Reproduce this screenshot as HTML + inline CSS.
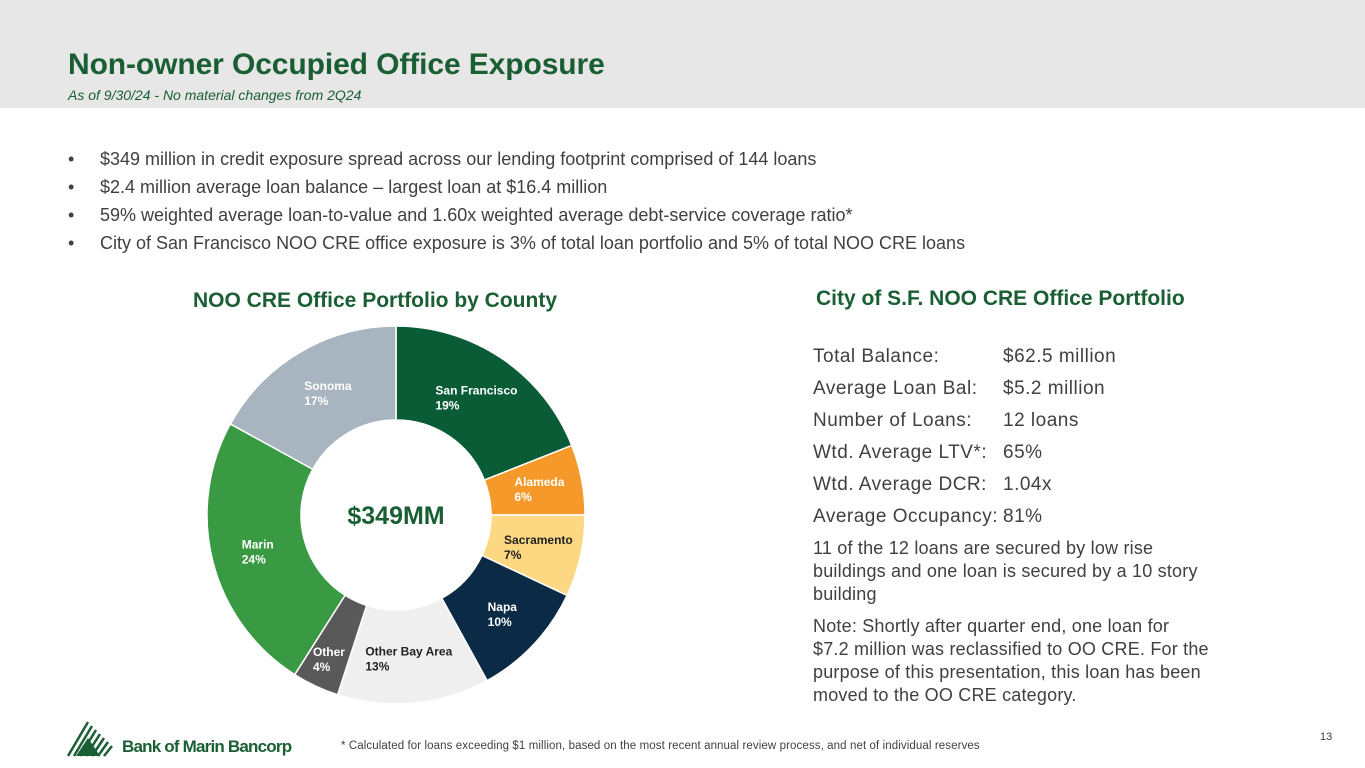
<!DOCTYPE html>
<html><head><meta charset="utf-8"><style>
body{margin:0;width:1365px;height:768px;position:relative;background:#fff;font-family:"Liberation Sans",sans-serif;overflow:hidden;color:#404040}
.hdr{position:absolute;left:0;top:0;width:1365px;height:108px;background:#e7e7e7}
.t{position:absolute;left:68px;top:48px;font-size:30px;font-weight:bold;color:#1a5e34;letter-spacing:-0.1px}
.st{position:absolute;left:68px;top:87px;font-size:14px;font-style:italic;color:#1a5e34}
.bul{position:absolute;left:68px;font-size:18px}
.bul span{position:absolute;left:0}
.bul div{position:absolute;left:32px;white-space:nowrap}
.h2{position:absolute;font-size:21px;font-weight:bold;color:#1a5e34}
.r{position:absolute;left:813px;font-size:19px;white-space:nowrap;letter-spacing:0.5px}
.v{position:absolute;left:1003px;font-size:19px;white-space:nowrap;letter-spacing:0.5px}
.p{position:absolute;left:813px;font-size:18px;line-height:23px;white-space:nowrap;letter-spacing:0.2px}
</style></head><body>
<div class="hdr"></div>
<div class="t">Non-owner Occupied Office Exposure</div>
<div class="st">As of 9/30/24 - No material changes from 2Q24</div>
<div class="bul" style="top:149px"><span>•</span><div>$349 million in credit exposure spread across our lending footprint comprised of 144 loans</div></div>
<div class="bul" style="top:177px"><span>•</span><div>$2.4 million average loan balance – largest loan at $16.4 million</div></div>
<div class="bul" style="top:205px"><span>•</span><div>59% weighted average loan-to-value and 1.60x weighted average debt-service coverage ratio*</div></div>
<div class="bul" style="top:233px"><span>•</span><div>City of San Francisco NOO CRE office exposure is 3% of total loan portfolio and 5% of total NOO CRE loans</div></div>
<div class="h2" style="left:193px;top:289px">NOO CRE Office Portfolio by County</div>
<div class="h2" style="left:816px;top:287px">City of S.F. NOO CRE Office Portfolio</div>
<div class="r" style="top:346px">Total Balance:</div><div class="v" style="top:346px">$62.5 million</div>
<div class="r" style="top:378px">Average Loan Bal:</div><div class="v" style="top:378px">$5.2 million</div>
<div class="r" style="top:410px">Number of Loans:</div><div class="v" style="top:410px">12 loans</div>
<div class="r" style="top:442px">Wtd. Average LTV*:</div><div class="v" style="top:442px">65%</div>
<div class="r" style="top:474px">Wtd. Average DCR:</div><div class="v" style="top:474px">1.04x</div>
<div class="r" style="top:506px">Average Occupancy:</div><div class="v" style="top:506px">81%</div>
<div class="p" style="top:537px">11 of the 12 loans are secured by low rise<br>buildings and one loan is secured by a 10 story<br>building</div>
<div class="p" style="top:615px">Note: Shortly after quarter end, one loan for<br>$7.2 million was reclassified to OO CRE. For the<br>purpose of this presentation, this loan has been<br>moved to the OO CRE category.</div>
<div style="position:absolute;left:341px;top:740px;font-size:11.5px;letter-spacing:0.1px">* Calculated for loans exceeding $1 million, based on the most recent annual review process, and net of individual reserves</div>
<div style="position:absolute;left:1320px;top:731px;font-size:11px">13</div>
<svg style="position:absolute;left:66px;top:718px" width="240" height="40">
<g stroke="#1a5e34" stroke-width="2.5"><line x1="2" y1="38" x2="22" y2="4"/><line x1="8" y1="38" x2="26" y2="8"/><line x1="14" y1="38" x2="30" y2="12"/><line x1="20" y1="38" x2="34" y2="16"/><line x1="26" y1="38" x2="38" y2="20"/><line x1="32" y1="38" x2="42" y2="24"/><line x1="38" y1="38" x2="46" y2="28"/></g>
<polygon points="10,38 22,20 34,38" fill="#1a5e34"/>
<text x="56" y="34" font-size="17" font-weight="bold" fill="#1a5e34" font-family="Liberation Sans, sans-serif" letter-spacing="-0.8">Bank of Marin Bancorp</text>
</svg>
<svg id="donut" style="position:absolute;left:0;top:0" width="1365" height="768"></svg>
<script>
const categories=["San Francisco","Alameda","Sacramento","Napa","Other Bay Area","Other","Marin","Sonoma"];
const values=[19,6,7,10,13,4,24,17];
const colors=["#0a5c36","#f59a2a","#fdd882","#0b2a45","#efefef","#595959","#3a9a44","#a8b4c0"];
const textColors=["#fff","#fff","#222","#fff","#222","#fff","#fff","#fff"];
const cx=396,cy=515,R=189,r=95;
const svg=document.getElementById('donut');
const NS="http://www.w3.org/2000/svg";
const total=values.reduce((a,b)=>a+b,0);
function pt(a,rad){return [cx+rad*Math.sin(a),cy-rad*Math.cos(a)];}
let acc=0;
values.forEach((v,i)=>{
 const a0=acc/total*2*Math.PI;acc+=v;const a1=acc/total*2*Math.PI;
 const large=(a1-a0)>Math.PI?1:0;
 const [x0,y0]=pt(a0,R),[x1,y1]=pt(a1,R),[x2,y2]=pt(a1,r),[x3,y3]=pt(a0,r);
 const p=document.createElementNS(NS,'path');
 p.setAttribute('d',`M${x0},${y0}A${R},${R} 0 ${large} 1 ${x1},${y1}L${x2},${y2}A${r},${r} 0 ${large} 0 ${x3},${y3}Z`);
 p.setAttribute('fill',colors[i]);p.setAttribute('stroke','#fff');p.setAttribute('stroke-width','1.5');
 
 
 svg.appendChild(p);
 const am=(a0+a1)/2;const [lx,ly]=pt(am,i==5?158:143);
 const t=document.createElementNS(NS,'text');
 const w=categories[i].length*6.3;
 const tx=lx-w/2;
 t.setAttribute('x',tx);t.setAttribute('y',ly-2);t.setAttribute('font-size','12');t.setAttribute('font-weight','bold');
 t.setAttribute('fill',textColors[i]);
 
 
 t.innerHTML=`<tspan x="${tx}">${categories[i]}</tspan><tspan x="${tx}" dy="15">${v}%</tspan>`;
 svg.appendChild(t);
});
const c=document.createElementNS(NS,'text');
c.setAttribute('x',cx);c.setAttribute('y',cy+9);c.setAttribute('text-anchor','middle');c.setAttribute('font-size','25');c.setAttribute('font-weight','bold');c.setAttribute('fill','#1a5e34');


c.textContent='$349MM';svg.appendChild(c);
</script>
</body></html>
